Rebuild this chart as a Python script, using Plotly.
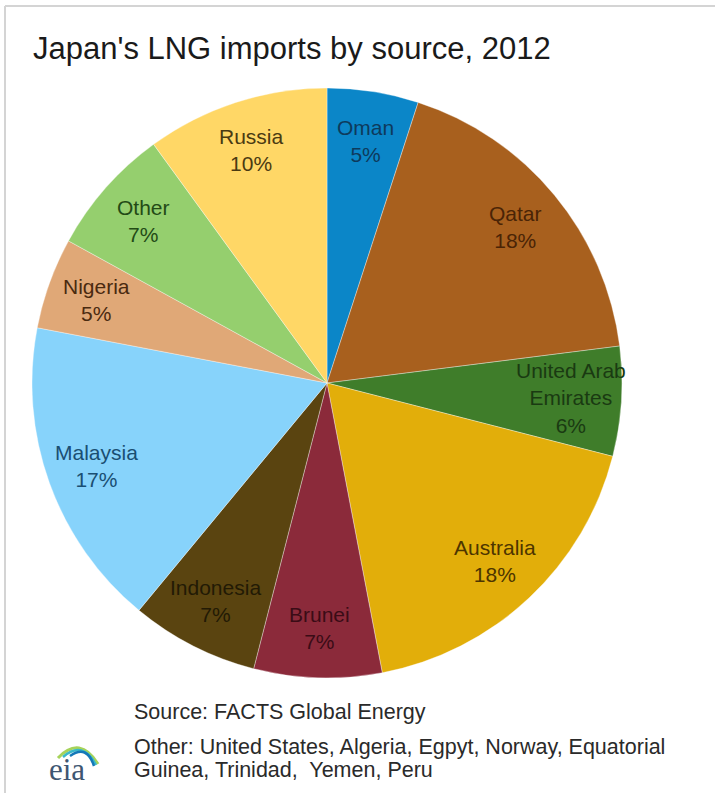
import math
import plotly.graph_objects as go

# ---- data ----
countries = ["Oman", "Qatar", "United Arab<br>Emirates", "Australia", "Brunei",
             "Indonesia", "Malaysia", "Nigeria", "Other", "Russia"]
shares = [5, 18, 6, 18, 7, 7, 17, 5, 7, 10]
slice_colors = ["#0B86C8", "#A8601E", "#3F7D2A", "#E2AE0A", "#8B2A3A",
                "#5A4410", "#87D3FB", "#E0A877", "#95CF6E", "#FFD766"]
label_colors = ["#0E3A5C", "#4A2406", "#1A3A12", "#4D3500", "#3A0C16",
                "#221A05", "#1A4E72", "#4A2A10", "#234A16", "#4A3A12"]
title_text = "Japan's LNG imports by source, 2012"
source_text = "Source: FACTS Global Energy"
other_note_1 = "Other: United States, Algeria, Egpyt, Norway, Equatorial"
other_note_2 = "Guinea, Trinidad,  Yemen, Peru"

W, H = 715, 793
FONT = "Arial, 'Liberation Sans', sans-serif"


def px(x):
    return x / W


def py(y):
    return 1 - y / H


# pie placement (pixels): left, right, top, bottom of the circle
PIE_L, PIE_R, PIE_T, PIE_B = 32, 622, 88, 678
LABEL_RADIUS_FRAC = 0.83

fig = go.Figure(go.Pie(
    labels=countries,
    values=shares,
    sort=False,
    direction="clockwise",
    rotation=0,
    marker=dict(colors=slice_colors, line=dict(color="rgba(255,255,255,0.35)", width=1)),
    textinfo="none",
    hoverinfo="label+percent",
    showlegend=False,
    domain=dict(x=[px(PIE_L), px(PIE_R)], y=[py(PIE_B), py(PIE_T)]),
))

# slice labels: placed at each slice's mid-angle (computed from the data)
cx = (PIE_L + PIE_R) / 2
cy = (PIE_T + PIE_B) / 2
R = (PIE_R - PIE_L) / 2
total = sum(shares)
annotations = []
cum = 0
for name, v, col in zip(countries, shares, label_colors):
    theta = 2 * math.pi * (cum + v / 2) / total
    cum += v
    r = R * LABEL_RADIUS_FRAC
    lx = cx + r * math.sin(theta)
    ly = cy - r * math.cos(theta)
    annotations.append(dict(
        text=f"{name}<br>{round(100 * v / total)}%", x=px(lx), y=py(ly),
        xref="paper", yref="paper", xanchor="center", yanchor="middle",
        showarrow=False, align="center",
        font=dict(family=FONT, size=21, color=col)))

annotations += [
    dict(text=title_text, x=px(31), y=py(48), xref="paper", yref="paper",
         xanchor="left", yanchor="middle", showarrow=False,
         font=dict(family=FONT, size=31, color="#1a1a1a")),
    dict(text=source_text, x=px(132), y=py(712), xref="paper", yref="paper",
         xanchor="left", yanchor="middle", showarrow=False,
         font=dict(family=FONT, size=21.5, color="#2a2a2a")),
    dict(text=other_note_1, x=px(132), y=py(747), xref="paper", yref="paper",
         xanchor="left", yanchor="middle", showarrow=False,
         font=dict(family=FONT, size=21.5, color="#2a2a2a")),
    dict(text=other_note_2, x=px(132), y=py(770), xref="paper", yref="paper",
         xanchor="left", yanchor="middle", showarrow=False,
         font=dict(family=FONT, size=21.5, color="#2a2a2a")),
    dict(text="eia", x=px(67), y=py(769), xref="paper", yref="paper",
         xanchor="center", yanchor="middle", showarrow=False,
         font=dict(family="'Liberation Serif', 'DejaVu Serif', serif", size=31, color="#3E5672")),
]


def arc(p0, c, p1, color, width):
    return dict(type="path", xref="paper", yref="paper",
                path=f"M {px(p0[0])},{py(p0[1])} Q {px(c[0])},{py(c[1])} {px(p1[0])},{py(p1[1])}",
                line=dict(color=color, width=width))


shapes = [
    # frame
    dict(type="line", xref="paper", yref="paper", x0=px(5), x1=1.0, y0=py(6), y1=py(6),
         line=dict(color="#D4D4D4", width=2)),
    dict(type="line", xref="paper", yref="paper", x0=px(5), x1=px(5), y0=py(6), y1=0,
         line=dict(color="#D4D4D4", width=2)),
    # eia logo arcs
    arc((58, 758), (80, 735), (98, 764), "#A6D35A", 3),
    arc((63, 757), (83, 740), (96, 765), "#39B8C9", 2.5),
    arc((70, 756), (87, 744), (94, 766), "#1478B8", 2.5),
]

fig.update_layout(
    width=W, height=H,
    margin=dict(l=0, r=0, t=0, b=0),
    paper_bgcolor="white",
    plot_bgcolor="white",
    annotations=annotations,
    shapes=shapes,
)

fig.write_html("out.html")
